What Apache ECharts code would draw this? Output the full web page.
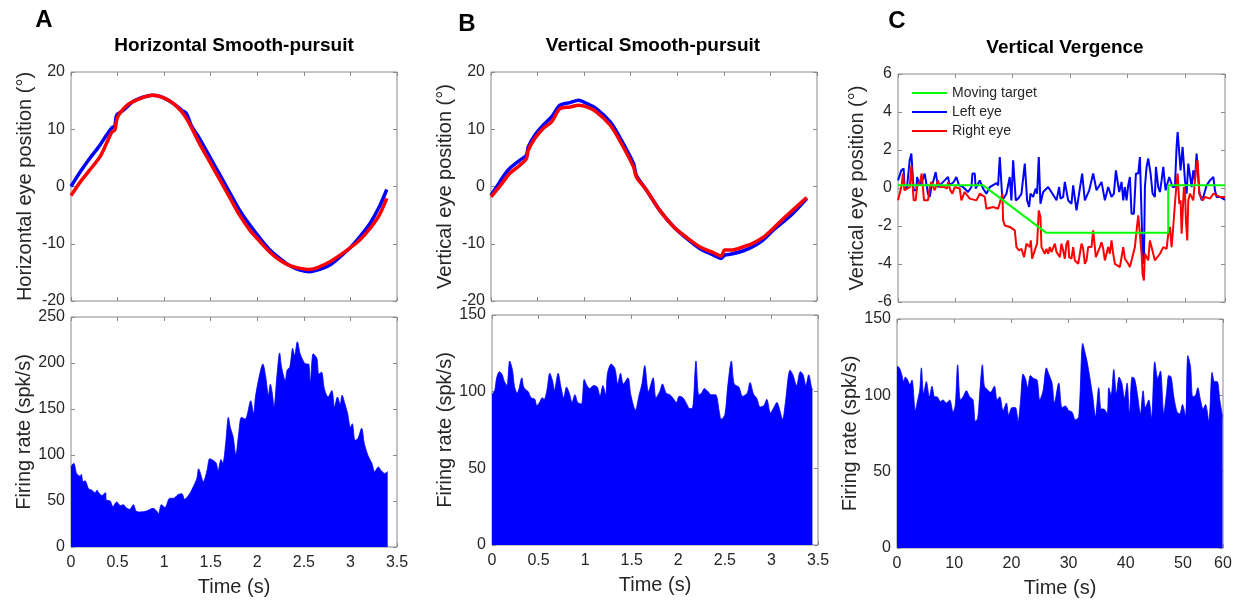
<!DOCTYPE html>
<html>
<head>
<meta charset="utf-8">
<title>Smooth pursuit and vergence</title>
<script src="https://cdn.jsdelivr.net/npm/echarts@6.0.0/dist/echarts.min.js"></script>
<style>
  html, body { margin: 0; padding: 0; background: #fff; }
  #main { width: 1237px; height: 601px; }
</style>
</head>
<body>
<div id="main"></div>
<script>
// A - horizontal smooth pursuit, eye position [time s, deg]
var hLeftEye = [[0,0.0],[0.10,2.56],[0.20,4.88],[0.31,7.21],[0.38,8.95],[0.44,10.29],[0.47,10.52],[0.49,12.44],[0.56,13.31],[0.67,14.88],
  [0.78,15.64],[0.88,15.93],[0.99,15.52],[1.10,14.48],[1.19,13.31],[1.24,12.73],[1.29,10.70],[1.38,8.37],[1.49,5.17],[1.60,1.98],
  [1.71,-1.22],[1.81,-4.13],[1.92,-6.74],[2.03,-9.07],[2.13,-10.99],[2.24,-12.56],[2.35,-13.84],[2.46,-14.59],[2.56,-14.88],[2.67,-14.48],
  [2.78,-13.72],[2.89,-12.27],[2.99,-10.81],[3.10,-8.78],[3.21,-6.45],[3.31,-3.55],[3.39,-0.52]];
var hRightEye = [[0,-1.6],[0.10,0.81],[0.20,2.85],[0.31,5.17],[0.38,7.50],[0.44,9.53],[0.47,9.83],[0.49,11.57],[0.51,12.44],[0.60,14.19],
  [0.74,15.35],[0.88,15.93],[0.99,15.52],[1.10,14.48],[1.19,13.02],[1.24,11.86],[1.29,10.41],[1.38,7.50],[1.49,4.30],[1.60,1.10],
  [1.71,-2.09],[1.81,-5.0],[1.92,-7.62],[2.03,-9.65],[2.13,-11.40],[2.24,-12.85],[2.35,-13.84],[2.46,-14.30],[2.56,-14.48],[2.67,-14.01],
  [2.78,-13.14],[2.89,-11.98],[2.99,-10.81],[3.10,-9.36],[3.21,-7.33],[3.31,-5.0],[3.39,-2.09]];
// A - firing rate [time s, spk/s]
var hRate = [[0,86],[0.01,89],[0.03,91],[0.06,80],[0.10,77],[0.11,79],[0.13,71],[0.15,72],[0.19,63],[0.22,62],
  [0.26,59],[0.28,62],[0.29,60],[0.33,56],[0.37,59],[0.38,51],[0.42,50],[0.45,44],[0.49,49],[0.53,45],
  [0.56,46],[0.60,42],[0.63,41],[0.67,46],[0.70,39],[0.74,38],[0.81,39],[0.88,42],[0.92,39],[0.94,36],
  [0.97,46],[1.01,43],[1.06,53],[1.10,53],[1.15,57],[1.19,58],[1.22,52],[1.28,59],[1.31,65],[1.35,74],
  [1.37,85],[1.39,80],[1.42,71],[1.46,83],[1.49,96],[1.53,94],[1.56,91],[1.58,83],[1.61,95],[1.63,91],
  [1.66,112],[1.69,141],[1.71,130],[1.74,120],[1.77,100],[1.80,123],[1.83,141],[1.87,139],[1.89,143],[1.93,159],
  [1.96,145],[1.98,163],[2.02,185],[2.06,199],[2.09,185],[2.12,165],[2.14,177],[2.16,168],[2.18,152],[2.21,185],
  [2.24,211],[2.26,196],[2.30,181],[2.32,192],[2.35,196],[2.38,216],[2.40,208],[2.43,223],[2.46,210],[2.49,203],
  [2.52,199],[2.55,199],[2.57,179],[2.60,210],[2.64,205],[2.66,188],[2.69,190],[2.72,172],[2.76,163],[2.80,170],
  [2.83,152],[2.86,163],[2.89,155],[2.91,165],[2.94,156],[2.97,145],[3.00,130],[3.02,134],[3.05,116],[3.08,118],
  [3.12,129],[3.15,112],[3.19,99],[3.23,91],[3.26,82],[3.30,87],[3.33,83],[3.37,80],[3.40,82]];

// B - vertical smooth pursuit
var vLeftEye = [[0,-1.51],[0.06,-0.06],[0.13,1.69],[0.20,3.14],[0.31,4.59],[0.38,5.47],[0.40,6.92],[0.47,8.95],[0.56,10.70],[0.65,12.15],
  [0.74,14.19],[0.85,14.65],[0.94,15.06],[1.03,14.48],[1.13,13.60],[1.28,11.28],[1.38,8.66],[1.53,4.01],[1.56,1.98],[1.67,-0.64],
  [1.81,-4.13],[1.96,-7.03],[2.10,-9.07],[2.24,-10.81],[2.39,-11.98],[2.47,-12.56],[2.51,-11.98],[2.58,-11.80],[2.71,-11.22],[2.81,-10.52],
  [2.92,-9.36],[3.03,-7.62],[3.14,-6.16],[3.24,-4.71],[3.39,-2.09]];
var vRightEye = [[0,-1.80],[0.06,-0.64],[0.13,0.81],[0.20,2.27],[0.31,3.72],[0.38,4.88],[0.40,6.34],[0.47,8.37],[0.56,10.12],[0.65,11.28],
  [0.74,13.60],[0.85,13.90],[0.94,14.19],[1.03,13.90],[1.13,13.02],[1.28,10.70],[1.38,8.08],[1.53,3.43],[1.56,1.69],[1.67,-0.64],
  [1.81,-4.13],[1.96,-7.03],[2.10,-8.90],[2.24,-10.52],[2.39,-11.57],[2.47,-12.15],[2.51,-11.10],[2.58,-11.10],[2.71,-10.52],[2.81,-9.94],
  [2.92,-8.90],[3.03,-7.33],[3.14,-5.58],[3.24,-4.13],[3.39,-1.92]];
var vRate = [[0,98],[0.03,101],[0.05,109],[0.08,113],[0.11,111],[0.13,107],[0.16,104],[0.19,120],[0.22,114],[0.24,104],
  [0.27,99],[0.29,102],[0.32,109],[0.34,103],[0.37,101],[0.39,100],[0.42,96],[0.46,95],[0.48,91],[0.51,93],
  [0.54,96],[0.56,95],[0.59,101],[0.62,112],[0.65,107],[0.67,101],[0.71,112],[0.74,103],[0.77,96],[0.80,103],
  [0.83,99],[0.86,93],[0.89,98],[0.92,93],[0.96,92],[0.99,108],[1.02,104],[1.05,102],[1.09,104],[1.13,103],
  [1.16,97],[1.19,104],[1.22,98],[1.24,112],[1.28,118],[1.32,115],[1.35,105],[1.38,112],[1.41,105],[1.46,109],
  [1.49,98],[1.54,88],[1.58,98],[1.61,105],[1.64,117],[1.68,100],[1.73,109],[1.76,96],[1.80,100],[1.83,105],
  [1.87,99],[1.91,98],[1.94,96],[1.98,93],[2.01,97],[2.05,96],[2.09,92],[2.12,89],[2.15,89],[2.19,120],
  [2.22,98],[2.25,99],[2.28,102],[2.32,100],[2.35,98],[2.40,98],[2.44,87],[2.46,82],[2.50,85],[2.53,103],
  [2.57,120],[2.60,105],[2.65,103],[2.69,97],[2.74,99],[2.77,106],[2.81,98],[2.84,96],[2.88,90],[2.92,91],
  [2.95,95],[2.99,86],[3.02,89],[3.06,93],[3.08,90],[3.12,82],[3.15,93],[3.20,114],[3.23,111],[3.27,104],
  [3.31,113],[3.34,111],[3.37,104],[3.40,111],[3.43,103],[3.44,101]];

// C - vertical vergence
var vgTarget = [[0,0.15],[14.8,0.15],[25.8,-2.35],[47.1,-2.35],[47.1,0.15],[57,0.15]];
var vgLeftEye = [[0,0.40],[0.58,0.93],[0.99,1.02],[1.16,-0.12],[1.57,0.05],[2.04,1.46],[2.33,1.81],[2.62,1.77],[2.73,-0.12],[3.20,-0.12],
  [3.32,0.58],[3.66,0.49],[3.78,0.14],[4.07,0.05],[4.36,0.49],[4.65,0.76],[4.94,0.67],[5.23,-0.30],[5.53,-0.47],[5.82,0.05],
  [6.11,0.32],[6.40,0.32],[6.57,0.84],[6.80,0.84],[6.98,0.05],[7.56,0.23],[8.14,0.40],[8.72,0.58],[9.01,0.14],[9.71,0.32],
  [10.18,0.58],[10.47,0.67],[10.64,0.14],[11.34,0.05],[12.21,-0.21],[12.80,0.05],[12.97,0.76],[13.38,0.76],[13.55,-0.03],[14.25,0.40],
  [14.83,-0.03],[15.41,-0.30],[15.99,0.05],[17.16,0.26],[17.45,0.14],[17.74,1.63],[18.03,1.55],[18.20,-0.65],[18.44,-0.74],[18.90,-0.30],
  [19.48,0.58],[19.77,-0.65],[20.07,1.46],[20.36,1.46],[20.53,-0.65],[20.94,-0.56],[21.52,-0.30],[22.10,1.28],[22.28,1.37],[22.51,-0.65],
  [22.86,-1.00],[23.09,-0.30],[23.55,-0.47],[24.02,-0.03],[24.25,-0.30],[24.54,1.63],[24.72,1.72],[24.83,-0.83],[25.30,-0.21],[26.17,0.05],
  [26.93,-0.30],[27.63,-0.65],[28.09,0.05],[28.32,-0.56],[28.79,-0.47],[29.08,0.32],[29.37,0.23],[29.66,-0.65],[30.24,-0.83],[30.53,0.14],
  [31.12,-1.18],[31.41,-1.09],[31.70,-0.03],[32.10,0.76],[32.40,0.76],[32.57,-0.65],[33.33,-0.12],[34.02,0.76],[34.31,0.76],[34.61,-0.12],
  [35.48,0.32],[35.77,0.32],[36.06,-0.65],[36.64,0.05],[37.22,-0.47],[37.63,-0.30],[37.98,0.93],[38.21,0.93],[38.56,-0.21],[38.97,0.32],
  [39.26,-0.65],[39.55,0.05],[39.84,-0.65],[40.13,0.14],[40.42,0.58],[40.71,-1.35],[41.12,-1.35],[41.47,0.76],[41.88,0.76],[42.17,1.63],
  [42.46,1.63],[42.63,-3.29],[42.86,-3.99],[43.04,0.05],[43.33,1.11],[43.62,1.55],[43.91,1.55],[44.03,0.76],[44.38,-0.30],[44.78,-0.47],
  [44.96,1.11],[45.19,1.11],[45.36,0.05],[45.66,-0.21],[45.95,0.40],[46.24,1.11],[46.41,1.11],[46.64,-0.12],[46.94,-0.21],[47.28,0.58],
  [47.52,0.67],[47.87,0.05],[48.27,0.05],[48.56,2.16],[48.74,2.95],[49.03,2.86],[49.26,0.93],[49.61,2.16],[49.84,2.07],[50.02,0.40],
  [50.31,-0.30],[50.60,1.28],[50.89,1.28],[51.18,0.05],[51.47,0.93],[51.76,0.40],[52.05,1.81],[52.23,1.90],[52.52,-0.21],[52.93,-0.65],
  [53.22,-0.47],[53.80,0.14],[54.38,0.40],[54.96,0.58],[55.25,-0.12],[55.54,-0.47],[56.12,-0.47],[57,-0.62]];
var vgRightEye = [[0,-0.65],[0.58,0.05],[0.87,0.76],[0.99,0.84],[1.16,-0.12],[2.04,0.05],[2.33,1.19],[2.62,1.19],[2.73,-0.65],[3.08,-0.65],
  [3.32,0.05],[3.90,0.40],[4.13,0.76],[4.36,0.76],[4.54,-0.65],[5.23,-0.65],[5.53,0.05],[5.82,0.32],[6.11,0.32],[6.40,-0.12],
  [6.98,0.40],[7.27,0.05],[8.14,0.05],[8.55,-0.03],[8.72,0.32],[9.01,0.32],[9.13,-0.12],[9.48,-0.30],[9.89,0.05],[10.76,-0.03],
  [11.05,-0.65],[11.34,-0.65],[11.63,-0.21],[12.50,-0.56],[13.67,-0.65],[14.25,-0.30],[15.12,-0.47],[15.41,-1.09],[16.58,-1.00],[17.45,-1.09],
  [17.74,-1.00],[18.03,-0.47],[18.20,-0.30],[18.32,-1.70],[18.61,-1.97],[19.48,-2.05],[20.36,-2.23],[20.65,-3.11],[21.11,-3.29],[21.52,-3.20],
  [21.98,-3.64],[22.39,-2.93],[22.97,-3.11],[23.15,-2.76],[23.38,-3.72],[23.67,-3.72],[24.02,-3.11],[24.25,-2.93],[24.54,-1.18],[24.83,-1.53],
  [25.01,-3.11],[25.59,-3.46],[25.88,-3.20],[26.17,-3.46],[26.46,-3.11],[26.75,-3.37],[27.34,-2.93],[27.63,-3.37],[28.21,-3.64],[28.50,-2.93],
  [28.79,-3.29],[29.08,-3.72],[29.37,-2.93],[29.66,-2.76],[29.84,-3.64],[30.24,-3.72],[30.53,-3.11],[30.82,-3.81],[31.41,-3.99],[31.70,-3.46],
  [31.99,-2.93],[32.28,-3.20],[32.57,-3.99],[32.86,-3.81],[33.15,-3.11],[33.73,-3.11],[34.02,-2.23],[34.31,-2.23],[34.49,-3.64],[35.19,-3.11],
  [35.48,-2.85],[35.77,-3.20],[36.06,-3.81],[36.64,-3.11],[36.93,-3.46],[37.22,-2.76],[37.51,-3.46],[37.81,-3.99],[38.68,-4.16],[38.97,-3.64],
  [39.26,-3.11],[39.55,-3.72],[40.13,-3.99],[40.42,-4.16],[40.71,-3.81],[41.29,-3.11],[41.59,-2.23],[41.88,-1.44],[42.17,-1.53],[42.46,-3.46],
  [42.63,-4.51],[42.86,-4.87],[43.04,-3.46],[43.62,-3.81],[43.91,-2.76],[44.20,-2.76],[44.49,-3.46],[44.78,-3.81],[45.66,-3.46],[46.24,-3.11],
  [46.82,-3.20],[47.11,-2.41],[47.40,-2.05],[47.69,-3.11],[47.98,-2.05],[48.27,-0.83],[48.56,0.23],[48.74,0.76],[49.03,-0.83],[49.26,-0.65],
  [49.44,-2.41],[49.61,-1.35],[49.84,0.05],[50.02,-0.12],[50.19,-1.70],[50.42,-2.76],[50.60,-0.65],[50.89,-0.30],[51.47,-0.65],[51.76,0.40],
  [52.05,1.28],[52.23,1.46],[52.52,-0.30],[53.10,-0.65],[53.51,-0.47],[54.38,-0.56],[54.96,-0.30],[56.12,-0.47],[57,-0.47]];
var vgRate = [[0,119],[0.41,118],[0.87,113],[1.17,109],[1.46,112],[1.87,110],[2.22,107],[2.62,110],[3.21,90],[3.62,97],
  [3.97,103],[4.26,118],[4.66,101],[5.13,109],[5.66,99],[6.12,106],[6.59,99],[7.0,99],[7.58,96],[8.05,97],
  [8.63,95],[9.21,97],[9.80,89],[10.20,94],[10.61,120],[11.08,97],[11.55,99],[12.13,103],[12.71,99],[13.29,97],
  [13.70,83],[14.11,85],[14.46,101],[14.93,120],[15.28,106],[15.74,104],[16.33,102],[17.03,106],[17.49,97],[17.96,99],
  [18.54,90],[19.13,95],[19.53,87],[20.12,92],[20.70,92],[21.17,83],[21.57,95],[22.04,114],[22.45,111],[22.86,105],
  [23.32,113],[23.91,111],[24.49,110],[24.96,97],[25.54,103],[26.12,118],[26.53,114],[27.11,108],[27.52,95],[28.28,108],
  [28.86,92],[29.45,93],[30.03,90],[30.61,89],[31.20,84],[31.78,86],[32.48,134],[32.94,127],[33.24,122],[33.70,112],
  [34.23,99],[34.69,86],[35.28,105],[35.69,91],[36.15,91],[36.74,88],[37.03,105],[37.43,100],[37.90,117],[38.37,101],
  [38.83,112],[39.30,108],[39.77,98],[40.23,108],[40.64,88],[41.11,112],[41.52,111],[41.98,102],[42.57,88],[43.03,103],
  [43.44,92],[44.02,97],[44.49,85],[45.07,122],[45.60,111],[46.06,116],[46.65,88],[47.11,101],[47.52,113],[47.93,112],
  [48.40,99],[48.98,89],[49.45,88],[49.91,94],[50.44,86],[50.85,126],[51.31,119],[51.72,99],[52.19,100],[52.59,105],
  [53.06,97],[53.53,91],[53.94,94],[54.52,83],[55.10,115],[55.51,109],[55.98,109],[56.44,97],[56.91,86]];
// tick labels of the vergence time axis (the last one sits on the right edge)
var vgTimeTicks = ['0', '10', '20', '30', '40', '50', '60'];

var FONT = '"Liberation Sans", Arial, sans-serif';
var BOX = '#8a8a8a';
var INK = '#262626';

// one entry per plot: grid box, axis ranges, names
var panels = [
  { box: [71, 72, 326, 229], x: [0, 3.5, 0.5], y: [-20, 20, 10], yName: 'Horizontal eye position (°)', yGap: 36, xLabels: false },
  { box: [71, 317, 326, 230], x: [0, 3.5, 0.5], y: [0, 250, 50], yName: 'Firing rate (spk/s)', yGap: 36, xLabels: true },
  { box: [491, 72, 326, 229], x: [0, 3.5, 0.5], y: [-20, 20, 10], yName: 'Vertical eye position (°)', yGap: 36, xLabels: false },
  { box: [492, 315, 326, 230], x: [0, 3.5, 0.5], y: [0, 150, 50], yName: 'Firing rate (spk/s)', yGap: 37, xLabels: true },
  { box: [898, 74, 327, 228], x: [0, 57, 10], y: [-6, 6, 2], yName: 'Vertical eye position (°)', yGap: 31, xLabels: false, vg: true },
  { box: [897, 319, 326, 229], x: [0, 57, 10], y: [0, 150, 50], yName: 'Firing rate (spk/s)', yGap: 29, xLabels: true, vg: true }
];

var grids = [], xAxes = [], yAxes = [];
panels.forEach(function (p, i) {
  grids.push({ left: p.box[0], top: p.box[1], width: p.box[2], height: p.box[3],
    show: true, borderColor: BOX, borderWidth: 1, containLabel: false });
  var tick = { show: true, inside: true, length: 4, lineStyle: { color: BOX } };
  var noLine = { show: false, onZero: false };
  xAxes.push({
    type: 'value', gridIndex: i, min: p.x[0], max: p.x[1], interval: p.x[2],
    axisLine: noLine, axisTick: tick, splitLine: { show: false },
    axisLabel: { show: p.xLabels, color: INK, fontSize: 16, fontFamily: FONT, margin: 8,
      formatter: p.vg ? function (v, idx) { return vgTimeTicks[idx]; } : null },
    name: p.xLabels ? 'Time (s)' : '', nameLocation: 'middle', nameGap: 30,
    nameTextStyle: { color: INK, fontSize: 20, fontFamily: FONT }
  });
  yAxes.push({
    type: 'value', gridIndex: i, min: p.y[0], max: p.y[1], interval: p.y[2],
    axisLine: noLine, axisTick: tick, splitLine: { show: false },
    axisLabel: { color: INK, fontSize: 16, fontFamily: FONT, margin: 6 },
    name: p.yName, nameLocation: 'middle', nameGap: p.yGap,
    nameTextStyle: { color: INK, fontSize: 20, fontFamily: FONT }
  });
  // mirrored ticks on top and right edges (MATLAB box)
  xAxes.push({ type: 'value', gridIndex: i, position: 'top', min: p.x[0], max: p.x[1], interval: p.x[2],
    axisLine: noLine, axisTick: tick, axisLabel: { show: false }, splitLine: { show: false } });
  yAxes.push({ type: 'value', gridIndex: i, position: 'right', min: p.y[0], max: p.y[1], interval: p.y[2],
    axisLine: noLine, axisTick: tick, axisLabel: { show: false }, splitLine: { show: false } });
});

function trace(name, data, grid, color, width, z, smooth) {
  return { name: name, type: 'line', data: data, xAxisIndex: grid * 2, yAxisIndex: grid * 2,
    symbol: 'none', smooth: smooth, z: z, silent: true,
    lineStyle: { color: color, width: width }, itemStyle: { color: color } };
}
function rate(name, data, grid) {
  var s = trace(name, data, grid, '#0000ff', 0.8, 2, 0.3);
  s.areaStyle = { color: '#0000ff', opacity: 1 };
  return s;
}

var series = [
  trace('A left', hLeftEye, 0, '#0000ff', 3.5, 2, 0.3),
  trace('A right', hRightEye, 0, '#ff0000', 3.5, 3, 0.3),
  rate('A rate', hRate, 1),
  trace('B left', vLeftEye, 2, '#0000ff', 3.5, 2, 0.3),
  trace('B right', vRightEye, 2, '#ff0000', 3.5, 3, 0.3),
  rate('B rate', vRate, 3),
  trace('Left eye', vgLeftEye, 4, '#0000ff', 2, 2, false),
  trace('Right eye', vgRightEye, 4, '#ff0000', 2, 3, false),
  trace('Moving target', vgTarget, 4, '#00ff00', 2, 4, false),
  rate('C rate', vgRate, 5)
];

function label(text, x, y, size) {
  return { type: 'text', x: x, y: y, z: 10,
    style: { text: text, font: 'bold ' + size + 'px ' + FONT, fill: '#000',
      align: 'center', verticalAlign: 'middle', textAlign: 'center', textVerticalAlign: 'middle' } };
}

var chart = echarts.init(document.getElementById('main'));
chart.setOption({
  backgroundColor: '#ffffff',
  animation: false,
  grid: grids,
  xAxis: xAxes,
  yAxis: yAxes,
  legend: {
    data: ['Moving target', 'Left eye', 'Right eye'],
    orient: 'vertical', left: 907, top: 81,
    icon: 'rect', itemWidth: 35, itemHeight: 2, itemGap: 5,
    textStyle: { color: INK, fontSize: 14, fontFamily: FONT, lineHeight: 14 }
  },
  graphic: [
    label('A', 44, 20, 24),
    label('Horizontal Smooth-pursuit', 234, 46, 19),
    label('B', 467, 24, 24),
    label('Vertical Smooth-pursuit', 653, 46, 19),
    label('C', 897, 21, 24),
    label('Vertical Vergence', 1065, 48, 19)
  ],
  series: series
});
</script>
</body>
</html>
